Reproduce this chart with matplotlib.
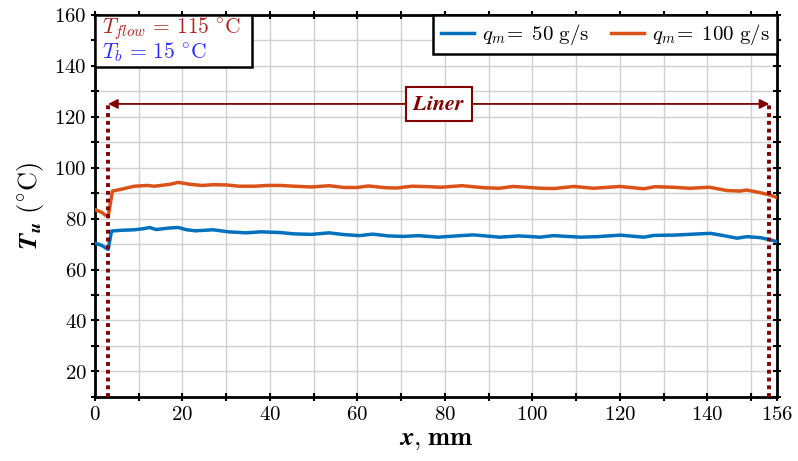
import numpy as np
import matplotlib
matplotlib.use('Agg')
import matplotlib.pyplot as plt
from matplotlib.patches import Rectangle
from matplotlib.ticker import FixedLocator

plt.rcParams['mathtext.fontset'] = 'cm'
plt.rcParams['font.family'] = 'serif'
plt.rcParams['font.serif'] = ['DejaVu Serif']

# data
x_100 = [0, 1.5, 3, 4, 6, 9, 12, 13.5, 17, 19, 22, 24.5, 27, 30, 33, 36.5, 39.5, 42.5,
         45.5, 49.5, 53.5, 57, 60, 62.5, 66.5, 69, 72.5, 76.5, 79, 84, 89, 92.5, 95.5,
         102, 105, 109.5, 114, 120, 125.5, 128, 132, 136, 140.5, 144.5, 147.5, 149,
         152, 154.5, 156]
T_100 = [83.5, 82.5, 80.6, 90.8, 91.5, 92.7, 93.0, 92.7, 93.4, 94.2, 93.4, 93.0, 93.3,
         93.2, 92.7, 92.7, 93.0, 93.0, 92.7, 92.4, 92.9, 92.2, 92.2, 92.8, 92.1, 92.0,
         92.7, 92.5, 92.3, 92.9, 92.1, 91.9, 92.6, 91.9, 91.8, 92.6, 91.9, 92.6, 91.7,
         92.5, 92.3, 91.9, 92.3, 91.0, 90.8, 91.2, 90.2, 89.2, 88.2]

x_50 = [0, 1.5, 3, 3.8, 6, 9, 11, 12.5, 14, 17, 19, 21, 23, 27, 30.5, 34.5, 38, 42.5,
        45.5, 49.5, 53.5, 57, 60.5, 63.5, 67, 70.5, 74, 78.5, 82.7, 86.5, 92.6, 97,
        101.8, 104.8, 111, 114.8, 120.1, 125.5, 127.8, 132.3, 137, 140.7, 143.8,
        146.8, 149.1, 152.2, 155, 156]
T_50 = [70.4, 69.5, 67.9, 75.1, 75.4, 75.6, 76.0, 76.5, 75.7, 76.3, 76.5, 75.6, 75.2,
        75.6, 74.8, 74.4, 74.8, 74.5, 74.0, 73.8, 74.4, 73.7, 73.3, 73.9, 73.2, 73.0,
        73.3, 72.7, 73.2, 73.6, 72.7, 73.2, 72.7, 73.3, 72.7, 72.9, 73.5, 72.7, 73.4,
        73.5, 73.9, 74.2, 73.3, 72.3, 72.9, 72.5, 71.4, 70.8]

liner_start, liner_end, liner_level = 3, 154.2, 125
x_ticks = [0, 10, 20, 30, 40, 50, 60, 70, 80, 90, 100, 110, 120, 130, 140, 150, 156]
x_labels = ['0', '', '20', '', '40', '', '60', '', '80', '', '100', '', '120', '', '140', '', '156']
y_ticks = list(range(10, 161, 10))
y_labels = [str(v) if v % 20 == 0 else '' for v in y_ticks]

blue = '#0072BD'
orange = '#D95319'
dark_red = '#800000'

fig = plt.figure(figsize=(7.98, 4.61), dpi=100)
ax = fig.add_axes([0.119, 0.139, 0.855, 0.829])

ax.plot(x_50, T_50, color=blue, lw=2.5, label=r'$q_m\!=\ 50\ \mathrm{g/s}$', zorder=3)
ax.plot(x_100, T_100, color=orange, lw=2.5, label=r'$q_m\!=\ 100\ \mathrm{g/s}$', zorder=3)

# liner limits and arrow
for xl in (liner_start, liner_end):
    ax.plot([xl, xl], [10, liner_level], color=dark_red, lw=2.8, ls=(0, (1, 1.0)), zorder=4)
ax.annotate('', xy=(liner_start, liner_level), xytext=(liner_end, liner_level),
            arrowprops=dict(arrowstyle='<|-|>', color=dark_red, lw=1.3,
                            mutation_scale=14, shrinkA=0, shrinkB=0), zorder=4)
ax.text((liner_start + liner_end) / 2, liner_level, r'$\mathbfit{Liner}$',
        color=dark_red, fontsize=16, ha='center', va='center', zorder=5,
        bbox=dict(boxstyle='square,pad=0.28', fc='white', ec=dark_red, lw=1.5))

ax.set_xlim(0, 156)
ax.set_ylim(10, 160)
ax.xaxis.set_major_locator(FixedLocator(x_ticks))
ax.yaxis.set_major_locator(FixedLocator(y_ticks))
ax.set_xticklabels([r'$\mathbf{%s}$' % s if s else '' for s in x_labels], fontsize=15)
ax.set_yticklabels([r'$\mathbf{%s}$' % s if s else '' for s in y_labels], fontsize=15)
ax.tick_params(direction='inout', length=6, width=1.5, top=True, right=True, pad=3)
ax.grid(True, color='#d0d0d0', lw=1.0)
ax.set_axisbelow(True)
for s in ax.spines.values():
    s.set_linewidth(2)

ax.set_xlabel(r'$\mathbfit{x}\mathbf{,}\;\mathbf{mm}$', fontsize=19, labelpad=2)
ax.set_ylabel(r'$\mathbfit{T}_{\mathbfit{u}}\ (^{\circ}\mathrm{C})$', fontsize=19, labelpad=6)

leg = ax.legend(loc='upper right', ncol=2, fontsize=15, frameon=True, fancybox=False,
                borderaxespad=0.0, handlelength=1.6, columnspacing=1.0,
                handletextpad=0.4, borderpad=0.35)
leg.get_frame().set_edgecolor('black')
leg.get_frame().set_linewidth(1.8)
leg.get_frame().set_alpha(1)

# conditions box
ax.add_patch(Rectangle((0, 0.864), 0.230, 0.136, transform=ax.transAxes, fc='white',
                       ec='black', lw=1.8, zorder=6))
ax.text(0.010, 0.963, r'$T_{flow}\,=\,115\ ^{\circ}\mathrm{C}$', transform=ax.transAxes,
        color='#B22222', fontsize=15.5, ha='left', va='center', zorder=7)
ax.text(0.010, 0.902, r'$T_b\,=\,15\ ^{\circ}\mathrm{C}$', transform=ax.transAxes,
        color='#2B2BFF', fontsize=15.5, ha='left', va='center', zorder=7)

fig.savefig('out.png', dpi=100)
